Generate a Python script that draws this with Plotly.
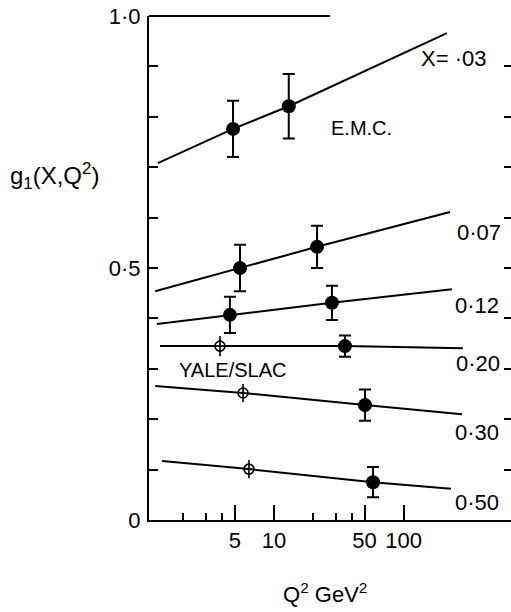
import math
import plotly.graph_objects as go

# ---- data ----
# EMC points (filled circles): Q^2, g1, error
emc_q2 = [4.83, 13.0, 5.47, 21.5, 4.57, 28.0, 35.3, 50.4, 58.1]
emc_g1 = [0.776, 0.821, 0.500, 0.542, 0.407, 0.431, 0.345, 0.228, 0.075]
emc_err = [0.056, 0.064, 0.046, 0.042, 0.036, 0.034, 0.021, 0.031, 0.030]

# YALE/SLAC points (open circles)
yale_q2 = [3.83, 5.77, 6.41]
yale_g1 = [0.345, 0.252, 0.101]
yale_err = [0.020, 0.018, 0.018]

# QCD evolution curves for each x
fit_q2_003 = [1.27, 4.83, 13.0, 216]
fit_g1_003 = [0.708, 0.776, 0.821, 0.966]
fit_q2_007 = [1.21, 5.47, 21.5, 228]
fit_g1_007 = [0.454, 0.500, 0.542, 0.611]
fit_q2_012 = [1.25, 4.57, 28.0, 236]
fit_g1_012 = [0.389, 0.407, 0.431, 0.458]
fit_q2_020 = [1.32, 3.83, 35.3, 287]
fit_g1_020 = [0.345, 0.345, 0.345, 0.341]
fit_q2_030 = [1.21, 5.77, 50.4, 282]
fit_g1_030 = [0.266, 0.252, 0.228, 0.210]
fit_q2_050 = [1.37, 6.41, 58.1, 232]
fit_g1_050 = [0.117, 0.101, 0.075, 0.062]

curve_labels = ["X= ·03", "0·07", "0·12", "0·20", "0·30", "0·50"]
label_q2 = [132, 248, 240, 245, 240, 240]
label_g1 = [0.915, 0.571, 0.425, 0.310, 0.173, 0.034]

x_tick_vals = [5, 10, 50, 100]
x_tick_text = ["5", "10", "50", "100"]
x_minor_vals = [2, 3, 4, 20, 30, 40]
y_tick_vals = [0, 0.5, 1.0]
y_tick_text = ["0", "0·5", "1·0"]
y_minor_vals = [0.1, 0.2, 0.3, 0.4, 0.6, 0.7, 0.8, 0.9]
y_right_vals = [0.1, 0.2, 0.3, 0.4, 0.5, 0.6, 0.7, 0.8, 0.9]

FONT = "Liberation Sans"
FS = 22
fig = go.Figure()

curves = [(fit_q2_003, fit_g1_003), (fit_q2_007, fit_g1_007), (fit_q2_012, fit_g1_012),
          (fit_q2_020, fit_g1_020), (fit_q2_030, fit_g1_030), (fit_q2_050, fit_g1_050)]
for q, g in curves:
    fig.add_trace(go.Scatter(x=q, y=g, mode="lines", line=dict(color="black", width=2),
                             showlegend=False, hoverinfo="skip"))

fig.add_trace(go.Scatter(
    x=yale_q2, y=yale_g1, mode="markers",
    marker=dict(symbol="circle-open", size=10, color="black", line=dict(width=1.6)),
    error_y=dict(type="data", array=yale_err, width=0, thickness=1.6, color="black"),
    showlegend=False))

fig.add_trace(go.Scatter(
    x=emc_q2, y=emc_g1, mode="markers",
    marker=dict(symbol="circle", size=14, color="black"),
    error_y=dict(type="data", array=emc_err, width=6, thickness=2, color="black"),
    showlegend=False))

# trace anchoring the right-hand tick axis
fig.add_trace(go.Scatter(x=[None], y=[None], yaxis="y2", showlegend=False, hoverinfo="skip"))

for lab, q, g in zip(curve_labels, label_q2, label_g1):
    fig.add_annotation(x=math.log10(q), y=g, xref="x", yref="y", text=lab, showarrow=False,
                       xanchor="left", yanchor="middle", font=dict(family=FONT, size=FS, color="black"))

fig.add_annotation(x=math.log10(26.5), y=0.778, xref="x", yref="y", text="E.M.C.", showarrow=False,
                   xanchor="left", yanchor="middle", font=dict(family=FONT, size=20, color="black"))
fig.add_annotation(x=math.log10(1.79), y=0.298, xref="x", yref="y", text="YALE/SLAC", showarrow=False,
                   xanchor="left", yanchor="middle", font=dict(family=FONT, size=20, color="black"))

fig.add_annotation(x=-0.39, y=0.683, xref="paper", yref="paper",
                   text="g<sub>1</sub>(X,Q<sup>2</sup>)", showarrow=False,
                   xanchor="left", yanchor="middle", font=dict(family=FONT, size=24, color="black"))
fig.add_annotation(x=0.486, y=-0.145, xref="paper", yref="paper",
                   text="Q<sup>2</sup> GeV<sup>2</sup>", showarrow=False,
                   xanchor="center", yanchor="middle", font=dict(family=FONT, size=22, color="black"))

fig.add_shape(type="line", xref="paper", yref="paper", x0=0, x1=0.5, y0=1, y1=1,
              line=dict(color="black", width=2))

fig.update_layout(
    width=511, height=612,
    margin=dict(l=149, r=0, t=16, b=92),
    paper_bgcolor="white", plot_bgcolor="white",
    font=dict(family=FONT, size=FS, color="black"),
    xaxis=dict(type="log", range=[0.0355, 2.829], showgrid=False, zeroline=False,
               showline=True, linecolor="black", linewidth=2,
               ticks="inside", tickmode="array", tickvals=x_tick_vals, ticktext=x_tick_text,
               ticklen=15, tickwidth=1.5, tickcolor="black",
               ticklabelstandoff=0,
               minor=dict(tickmode="array", tickvals=x_minor_vals, ticks="inside",
                          ticklen=7, tickwidth=1.5, tickcolor="black", showgrid=False),
               tickfont=dict(family=FONT, size=FS, color="black")),
    yaxis=dict(range=[0, 1.0], showgrid=False, zeroline=False,
               showline=True, linecolor="black", linewidth=2,
               ticks="inside", tickmode="array", tickvals=y_tick_vals, ticktext=y_tick_text,
               ticklen=9, tickwidth=1.5, tickcolor="black", ticklabelstandoff=2,
               minor=dict(tickmode="array", tickvals=y_minor_vals, ticks="inside",
                          ticklen=9, tickwidth=1.5, tickcolor="black", showgrid=False),
               tickfont=dict(family=FONT, size=FS, color="black")),
    yaxis2=dict(range=[0, 1.0], overlaying="y", side="right", showgrid=False, zeroline=False,
                showline=False, ticks="inside", tickmode="array", tickvals=y_right_vals,
                ticklen=7, tickwidth=1.5, tickcolor="black", showticklabels=False),
)

fig.write_html("out.html")
